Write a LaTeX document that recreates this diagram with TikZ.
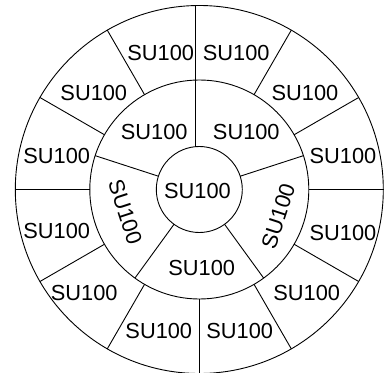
\documentclass[tikz,border=0pt]{standalone}
\usepackage{fontspec}
\setmainfont{Liberation Sans}
\begin{document}
\begin{tikzpicture}[x=1pt,y=1pt,
  ring/.style={draw=black,line width=0.9pt},
  spoke/.style={draw=black,line width=0.9pt},
  lbl/.style={inner sep=0pt,font=\fontsize{21.8}{26}\selectfont}]
\useasboundingbox (-199.3,-182.5) rectangle (185.7,189.5);
% rings
\draw[ring] (0,0) circle[radius=184];
\draw[ring] (0,0) circle[radius=109.5];
\draw[ring] (0,0) circle[radius=43];
% long top spoke and bottom spoke
\coordinate (t1) at (-3.6,183.95);
\coordinate (t2) at (-3.6,42.85);
\draw[spoke] (t1) -- (t2);
\coordinate (b1) at (0,-109.5);
\coordinate (b2) at (0,-184);
\draw[spoke] (b1) -- (b2);
% inner ring spokes
\foreach \a in {18,-54,-126,162}
  \draw[spoke] (\a:43) -- (\a:109.5);
% outer ring spokes
\foreach \a in {0,30,60,120,150,180,210,240,300,330}
  \draw[spoke] (\a:109.5) -- (\a:184);
% outer labels
\node[lbl] (o1) at (-38.6,136.7) {SU100};
\node[lbl] (o2) at (36.9,136.7) {SU100};
\node[lbl] (o3) at (105.7,96.7) {SU100};
\node[lbl] (o4) at (143.7,33.7) {SU100};
\node[lbl] (o5) at (143.7,-43) {SU100};
\node[lbl] (o6) at (107.4,-103) {SU100};
\node[lbl] (o7) at (40.4,-141) {SU100};
\node[lbl] (o8) at (-40.5,-141) {SU100};
\node[lbl] (o9) at (-115.1,-103) {SU100};
\node[lbl] (o10) at (-142.6,-41) {SU100};
\node[lbl] (o11) at (-142.6,33.7) {SU100};
\node[lbl] (o12) at (-105.5,96.7) {SU100};
% middle labels
\node[lbl] (m1) at (-45.1,57.8) {SU100};
\node[lbl] (m2) at (47,57.8) {SU100};
\node[lbl,rotate=72] (m3) at (79,-26.5) {SU100};
\node[lbl,rotate=-72] (m4) at (-74,-22.2) {SU100};
\node[lbl] (m5) at (2.4,-78) {SU100};
% centre label
\node[lbl] (c) at (-1.8,-1.8) {SU100};
\end{tikzpicture}
\end{document}
